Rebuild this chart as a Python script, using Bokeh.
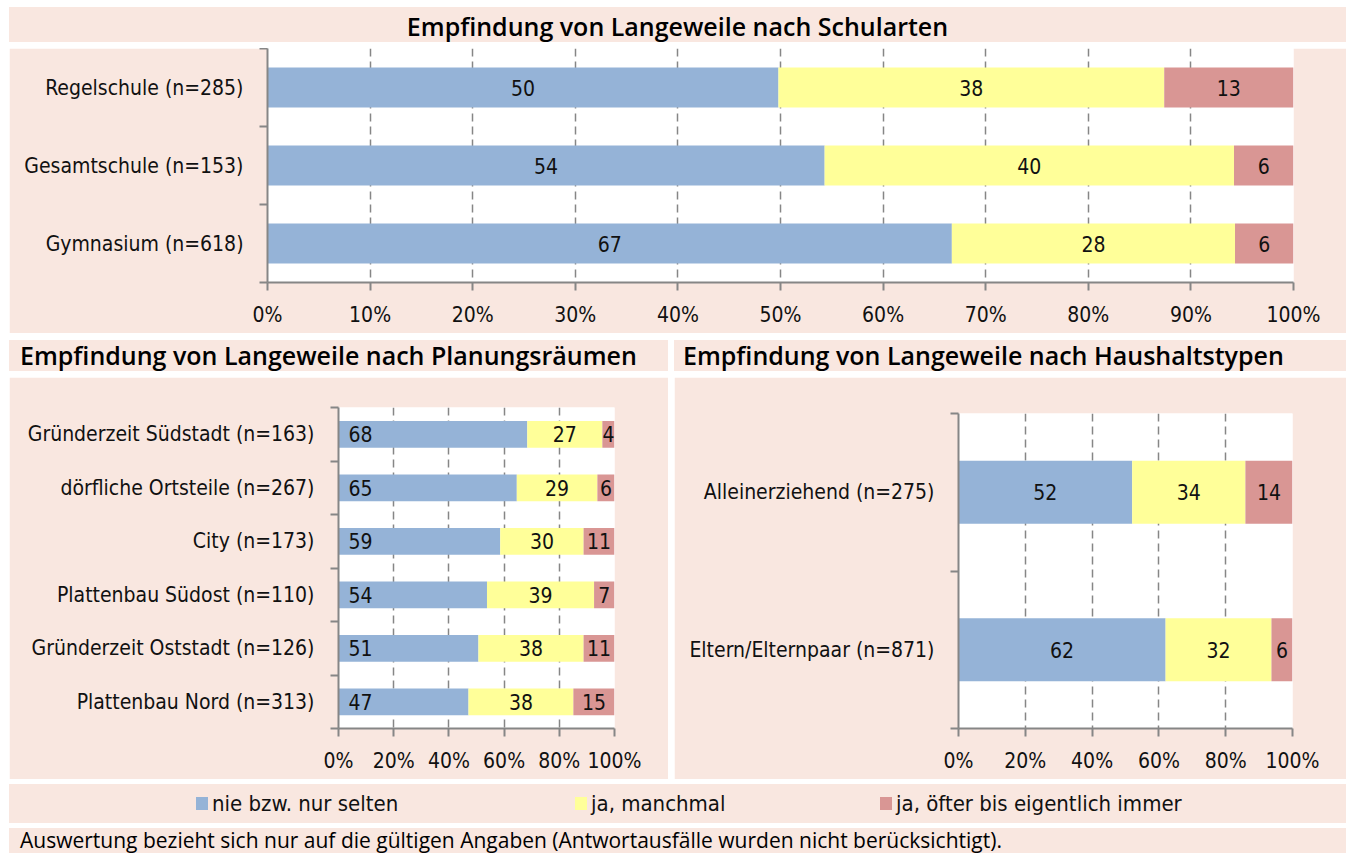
from bokeh.plotting import figure
from bokeh.layouts import column, row, Spacer
from bokeh.models import Range1d, FixedTicker, ColumnDataSource, Div
from bokeh.embed import file_html
from bokeh.resources import INLINE
from bokeh.core.properties import value

# ---------------- data ----------------
series_names = ["nie bzw. nur selten", "ja, manchmal", "ja, öfter bis eigentlich immer"]

schul_cats = ["Regelschule (n=285)", "Gesamtschule (n=153)", "Gymnasium (n=618)"]
schul_selten = [49.8, 54.3, 66.7]
schul_manchmal = [37.6, 39.9, 27.6]
schul_oefter = [12.6, 5.8, 5.7]

plan_cats = ["Gründerzeit Südstadt (n=163)", "dörfliche Ortsteile (n=267)", "City (n=173)",
             "Plattenbau Südost (n=110)", "Gründerzeit Oststadt (n=126)", "Plattenbau Nord (n=313)"]
plan_selten = [68.4, 64.6, 58.6, 53.8, 50.7, 47.1]
plan_manchmal = [27.2, 29.2, 30.2, 38.8, 38.1, 38.0]
plan_oefter = [4.4, 6.2, 11.2, 7.4, 11.2, 14.9]

haus_cats = ["Alleinerziehend (n=275)", "Eltern/Elternpaar (n=871)"]
haus_selten = [52.0, 62.0]
haus_manchmal = [33.9, 31.7]
haus_oefter = [14.1, 6.3]

ticks_top = [0, 10, 20, 30, 40, 50, 60, 70, 80, 90, 100]
ticks_bottom = [0, 20, 40, 60, 80, 100]

title_top = "Empfindung von Langeweile nach Schularten"
title_left = "Empfindung von Langeweile nach Planungsräumen"
title_right = "Empfindung von Langeweile nach Haushaltstypen"
footnote = "Auswertung bezieht sich nur auf die gültigen Angaben (Antwortausfälle wurden nicht berücksichtigt)."

# ---------------- style ----------------
PINK = "#f9e7e0"
COLORS = ["#95b3d7", "#ffff99", "#d99694"]
GRAY = "#868686"
FONT = "DejaVu Sans Condensed"
FS = "21px"
TFONT = "Open Sans"


def band(width, height, html="", align="left", pad=0, size="24px", weight="600", font=TFONT):
    style = (f"width:{width}px;height:{height}px;background:{PINK};font-family:'{font}';"
             f"font-size:{size};font-weight:{weight};line-height:{height}px;color:#000;"
             f"text-align:{align};white-space:nowrap;overflow:visible;box-sizing:border-box;"
             f"padding-left:{pad}px;")
    return Div(text=f'<div style="{style}">{html}</div>', width=width, height=height,
               margin=0)


def panel(cats, s1, s2, s3, ticks, width, height, left, right, top, bottom, bar_h, base_labels=False):
    n = len(cats)
    ys = [i + 0.5 for i in range(n)]
    p = figure(width=width, height=height, x_range=Range1d(0, 100), y_range=Range1d(n, 0),
               output_backend="svg", toolbar_location=None, title=None,
               min_border_left=left, min_border_right=right, min_border_top=top,
               min_border_bottom=bottom, background_fill_color="white",
               border_fill_color=PINK, outline_line_color=None, margin=0)
    src = ColumnDataSource(dict(y=ys, s1=s1, s2=s2, s3=s3))
    p.hbar_stack(["s1", "s2", "s3"], y="y", height=bar_h, color=COLORS, line_color=None, source=src)

    c1 = [a / 2 for a in s1]
    c2 = [a + b / 2 for a, b in zip(s1, s2)]
    c3 = [a + b + c / 2 for a, b, c in zip(s1, s2, s3)]
    lab = dict(y=ys + ys + ys,
               x=([0] * n if base_labels else c1) + c2 + c3,
               t=[str(round(v)) for v in list(s1) + list(s2) + list(s3)],
               off=([10] * n if base_labels else [0] * n) + [0] * (2 * n),
               al=(["left"] * n if base_labels else ["center"] * n) + ["center"] * (2 * n))
    p.text(x="x", y="y", text="t", x_offset="off", text_align="al", text_baseline="middle",
           text_font=value(FONT), text_font_size=FS, text_color="#111111",
           source=ColumnDataSource(lab))

    p.xaxis.ticker = FixedTicker(ticks=ticks)
    p.xaxis.major_label_overrides = {t: f"{t}%" for t in ticks}
    p.yaxis.ticker = FixedTicker(ticks=ys, minor_ticks=list(range(n + 1)))
    p.yaxis.major_label_overrides = {y: c for y, c in zip(ys, cats)}

    for ax in (p.xaxis[0], p.yaxis[0]):
        ax.axis_line_color = GRAY
        ax.axis_line_width = 2
        ax.major_label_text_font = FONT
        ax.major_label_text_font_size = FS
        ax.major_label_text_color = "#111111"
        ax.minor_tick_line_color = GRAY
        ax.minor_tick_line_width = 2
        ax.major_tick_line_color = GRAY
        ax.major_tick_line_width = 2
    p.xaxis.major_tick_out = 8
    p.xaxis.major_tick_in = 0
    p.xaxis.minor_tick_line_color = None
    p.xaxis.major_label_standoff = 12
    p.yaxis.major_tick_line_color = None
    p.yaxis.major_tick_out = 0
    p.yaxis.major_tick_in = 0
    p.yaxis.minor_tick_out = 8
    p.yaxis.minor_tick_in = 0
    p.yaxis.major_label_standoff = 16

    p.xgrid.grid_line_color = GRAY
    p.xgrid.grid_line_width = 1.5
    p.xgrid.grid_line_dash = "8 5"
    p.ygrid.grid_line_color = None
    return p


W = 1337          # page x 9 .. 1346
LW, RW = 659, 672  # bottom panels: 9..668 and 674..1346

strip = band(W, 5)
t1 = band(W, 32, title_top, align="center", size="25px")
p1 = panel(schul_cats, schul_selten, schul_manchmal, schul_oefter, ticks_top,
           W, 285, 258, 53, 0, 51, 0.51)

t2 = band(LW, 31, title_left, pad=11, size="25px")
p2 = panel(plan_cats, plan_selten, plan_manchmal, plan_oefter, ticks_bottom,
           LW, 402, 329, 54, 30, 51, 0.5, base_labels=True)

t3 = band(RW, 31, title_right, pad=9, size="25px")
p3 = panel(haus_cats, haus_selten, haus_manchmal, haus_oefter, ticks_bottom,
           RW, 402, 284, 54, 36, 51, 0.4)

# legend band (HTML)
leg_pos = [187, 566, 871]
items = ""
for name, col, xl in zip(series_names, COLORS, leg_pos):
    items += (f'<span style="position:absolute;left:{xl}px;top:13px;width:12px;height:13px;'
              f'background:{col};"></span>'
              f'<span style="position:absolute;left:{xl + 16}px;top:0px;line-height:39px;'
              f'font-family:\'{FONT}\';font-size:22px;color:#111;white-space:nowrap;">{name}</span>')
lg = Div(text=f'<div style="position:relative;width:{W}px;height:39px;background:{PINK};">{items}</div>',
         width=W, height=39, margin=0)

fn = band(W, 25, footnote, pad=11, size="21px", weight="400")

layout = column(
    row(Spacer(width=9), strip),
    Spacer(height=5),
    row(Spacer(width=9), t1),
    Spacer(height=6),
    row(Spacer(width=9), p1),
    Spacer(height=7),
    row(Spacer(width=9), column(t2, Spacer(height=6), p2), Spacer(width=6),
        column(t3, Spacer(height=6), p3)),
    Spacer(height=5),
    row(Spacer(width=9), lg),
    Spacer(height=5),
    row(Spacer(width=9), fn),
)

open("out.html", "w").write(file_html(layout, INLINE))
